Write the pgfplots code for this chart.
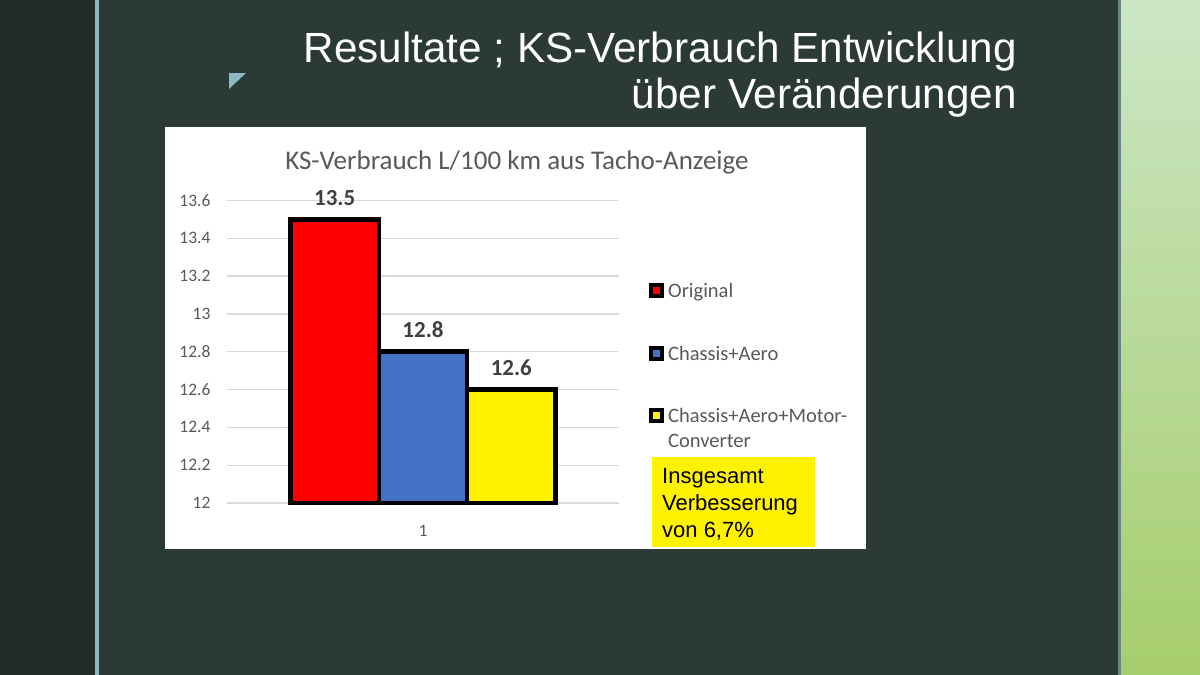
\documentclass[border=0pt]{standalone}
\usepackage{pgfplots}
\pgfplotsset{compat=1.18}
\usepackage{fontspec}
\setmainfont{Carlito}
\newfontfamily\arial{Liberation Sans}

\definecolor{slidebg}{HTML}{2C3A35}
\definecolor{slideleft}{HTML}{232C28}
\definecolor{accentline}{HTML}{8BBAC2}
\definecolor{mintTop}{HTML}{CBE7C6}
\definecolor{mintBot}{HTML}{A6CD6C}
\definecolor{txtgray}{HTML}{595959}
\definecolor{lblgray}{HTML}{404040}
\definecolor{gridgray}{HTML}{D9D9D9}
\definecolor{xlblue}{HTML}{4472C4}

\begin{document}
\begin{tikzpicture}
% slide background, drawn in pixel units (y pointing down)
\begin{scope}[x=1pt,y=-1pt]
\useasboundingbox (0,0) rectangle (1200,675);
\fill[slidebg] (0,0) rectangle (1200,675);
\fill[slideleft] (0,0) rectangle (95,675);
\fill[accentline] (95,0) rectangle (99,675);
\shade[top color=mintTop, bottom color=mintBot] (1121,0) rectangle (1200,675);
\fill[accentline!60!slidebg] (1118,0) rectangle (1121,675);
\fill[accentline] (229,73) -- (246,73) -- (229,89) -- cycle;
\node[anchor=base east, inner sep=0pt, text=white,
      font=\arial\fontsize{42.2}{46}\selectfont] at (1017,62) {Resultate ; KS-Verbrauch Entwicklung};
\node[anchor=base east, inner sep=0pt, text=white,
      font=\arial\fontsize{42.2}{46}\selectfont] at (1017,108) {über Veränderungen};
% chart area
\fill[white] (165,127) rectangle (866,549);
\node[anchor=base, inner sep=0pt, text=txtgray,
      font=\fontsize{27}{30}\selectfont] at (517,169) {KS-Verbrauch L/100 km aus Tacho-Anzeige};
% note box
\fill[yellow] (652,457) rectangle (815,547);
\node[anchor=base west, inner sep=0pt, font=\arial\fontsize{22}{27}\selectfont] at (662,483) {Insgesamt};
\node[anchor=base west, inner sep=0pt, font=\arial\fontsize{22}{27}\selectfont] at (662,510) {Verbesserung};
\node[anchor=base west, inner sep=0pt, font=\arial\fontsize{22}{27}\selectfont] at (662,537) {von 6,7\%};
\end{scope}

\begin{axis}[
    at={(227pt,-503pt)}, anchor=south west,
    scale only axis, width=392pt, height=302.6pt,
    xmin=0.5, xmax=1.5, ymin=12, ymax=13.6,
    ybar=0pt, bar width=0.2253,
    clip=false,
    axis line style={draw=none},
    tick style={draw=none},
    ymajorgrids, grid style={gridgray, line width=1.3pt},
    xtick={1}, xticklabels={1},
    ytick={12,12.2,12.4,12.6,12.8,13,13.2,13.4,13.6},
    yticklabels={12,12.2,12.4,12.6,12.8,13,13.2,13.4,13.6},
    ticklabel style={font=\fontsize{17.5}{20}\selectfont, text=txtgray},
    yticklabel style={xshift=-13pt},
    xticklabel style={yshift=-14pt},
    nodes near coords,
    nodes near coords style={font=\bfseries\fontsize{23}{26}\selectfont,
        text=lblgray, anchor=south, inner sep=0pt, yshift=11.5pt},
    /pgf/number format/assume math mode=true,
    legend image code/.code={\draw[#1, line width=4pt] (-1pt,1.5pt) rectangle (10pt,12.5pt);},
    legend style={draw=none, fill=none, inner sep=0pt,
        at={(1.0765,0.734)}, anchor=north west,
        font=\fontsize{20.5}{25}\selectfont, text=txtgray,
        cells={anchor=base west}, row sep=43pt},
]
\addplot[fill=red, draw=black, line width=4.5pt] coordinates {(1,13.5)};
\addlegendentry{\hspace{2pt}Original}
\addplot[fill=xlblue, draw=black, line width=4.5pt] coordinates {(1,12.8)};
\addlegendentry{\hspace{2pt}Chassis+Aero}
\addplot[fill=yellow, draw=black, line width=4.5pt] coordinates {(1,12.6)};
\addlegendentry{\vtop{\hbox{\hspace{2pt}Chassis+Aero+Motor-}\hbox{\hspace{2pt}Converter}}}
\end{axis}
\end{tikzpicture}
\end{document}
